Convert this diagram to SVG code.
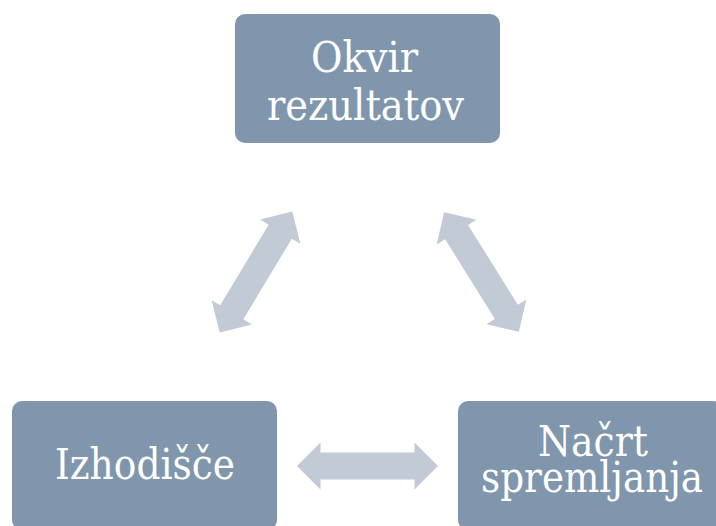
<svg xmlns="http://www.w3.org/2000/svg" width="716" height="526" viewBox="0 0 716 526">
  <style>
    .box { fill: #7f96ad; }
    .lbl { fill: #ffffff; font-family: "DejaVu Serif", "Liberation Serif", serif; font-size: 43px; }
    .arr { fill: #c1cad5; }
  </style>
  <defs>
    <polygon id="dbl" points="-70.5,0 -47,-23.5 -47,-13.5 47,-13.5 47,-23.5 70.5,0 47,23.5 47,13.5 -47,13.5 -47,23.5"/>
  </defs>
  <rect width="716" height="526" fill="#ffffff"/>
  <g id="connectors">
    <use href="#dbl" class="arr" transform="translate(256,272) rotate(-59)"/>
    <use href="#dbl" class="arr" transform="translate(481.5,272) rotate(58)"/>
    <use href="#dbl" class="arr" transform="translate(367.5,466)"/>
  </g>
  <g id="okvir">
    <rect class="box" x="235" y="14" width="265" height="129" rx="10"/>
    <text class="lbl" x="311" y="72" textLength="107" lengthAdjust="spacingAndGlyphs">Okvir</text>
    <text class="lbl" x="267" y="120" textLength="197" lengthAdjust="spacingAndGlyphs">rezultatov</text>
  </g>
  <g id="izhodisce">
    <rect class="box" x="12" y="401" width="265" height="129" rx="10"/>
    <text class="lbl" x="55" y="479" textLength="180" lengthAdjust="spacingAndGlyphs">Izhodišče</text>
  </g>
  <g id="nacrt">
    <rect class="box" x="458" y="401" width="265" height="129" rx="10"/>
    <text class="lbl" x="538" y="456" textLength="110" lengthAdjust="spacingAndGlyphs">Načrt</text>
    <text class="lbl" x="481" y="492" textLength="222" lengthAdjust="spacingAndGlyphs">spremljanja</text>
  </g>
</svg>
